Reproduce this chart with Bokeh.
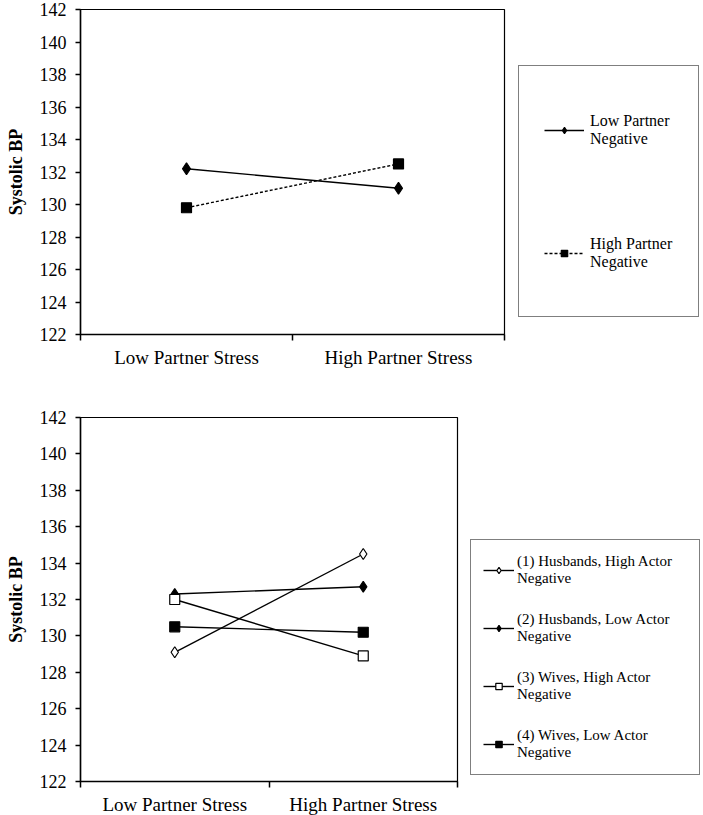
import numpy as np
from bokeh.plotting import figure
from bokeh.models import Range1d, FixedTicker, Legend, LegendItem
from bokeh.layouts import column
from bokeh.embed import file_html
from bokeh.resources import INLINE

# ---------------- data ----------------
categories = ["Low Partner Stress", "High Partner Stress"]
y_ticks = list(range(122, 143, 2))

top_names = ["Low Partner\nNegative", "High Partner\nNegative"]
top_low_neg = [132.2, 131.0]
top_high_neg = [129.8, 132.5]

bot_names = ["(1) Husbands, High Actor\nNegative",
             "(2) Husbands, Low Actor\nNegative",
             "(3) Wives, High Actor\nNegative",
             "(4) Wives, Low Actor\nNegative"]
bot_h_high = [129.1, 134.5]
bot_h_low = [132.3, 132.7]
bot_w_high = [132.0, 128.9]
bot_w_low = [130.5, 130.2]

FONT = "Liberation Serif"
xs = list(np.arange(len(categories)) + 0.5)


def base_fig(fw, fh, top, bottom, right):
    p = figure(frame_width=fw, frame_height=fh, output_backend="svg",
               toolbar_location=None,
               x_range=Range1d(0, len(categories)),
               y_range=Range1d(y_ticks[0], y_ticks[-1]),
               min_border_left=80, min_border_top=top,
               min_border_bottom=bottom, min_border_right=right)
    p.xgrid.visible = False
    p.ygrid.visible = False
    p.outline_line_color = "black"
    p.outline_line_width = 1.2
    p.background_fill_color = "white"
    p.border_fill_color = "white"
    # x axis: labels at category centres, tick marks at category boundaries
    p.xaxis.ticker = FixedTicker(ticks=xs,
                                 minor_ticks=list(range(len(categories) + 1)))
    p.xaxis.major_label_overrides = {x: c for x, c in zip(xs, categories)}
    p.xaxis.major_tick_out = 0
    p.xaxis.major_tick_in = 0
    p.xaxis.minor_tick_out = 6
    p.xaxis.minor_tick_in = 0
    p.xaxis.major_label_standoff = 6
    # y axis
    p.yaxis.ticker = FixedTicker(ticks=y_ticks)
    p.yaxis.major_tick_out = 5
    p.yaxis.major_tick_in = 0
    p.yaxis.minor_tick_out = 0
    p.yaxis.minor_tick_in = 0
    p.yaxis.major_label_standoff = 9
    p.yaxis.axis_label = "Systolic BP"
    p.yaxis.axis_label_text_font = FONT
    p.yaxis.axis_label_text_font_style = "bold"
    p.yaxis.axis_label_text_font_size = "18px"
    p.yaxis.axis_label_text_color = "black"
    p.yaxis.axis_label_standoff = 11
    for ax in (p.xaxis, p.yaxis):
        ax.axis_line_color = "black"
        ax.axis_line_width = 1.5
        ax.major_tick_line_color = "black"
        ax.major_tick_line_width = 1.5
        ax.minor_tick_line_color = "black"
        ax.minor_tick_line_width = 1.5
        ax.major_label_text_font = FONT
        ax.major_label_text_color = "black"
    p.yaxis.major_label_text_font_size = "18px"
    p.xaxis.major_label_text_font_size = "19px"
    return p


def series(p, ys, marker, fill, dash="solid", size=10):
    ln = p.line(xs, ys, line_color="black", line_width=1.4, line_dash=dash)
    sc = p.scatter(xs, ys, marker=marker, size=size, line_color="black",
                   fill_color=fill, line_width=1.2)
    return [ln, sc]


# ---------------- top panel ----------------
p1 = base_fig(424, 325, 9, 73, 199)
r1 = series(p1, top_low_neg, "diamond", "black", size=12)
r2 = series(p1, top_high_neg, "square", "black", dash="3 2", size=10)
leg1 = Legend(items=[LegendItem(label=top_names[0], renderers=r1),
                     LegendItem(label=top_names[1], renderers=r2)],
              location=(14, 17), orientation="vertical",
              padding=25, spacing=46, label_height=77, label_width=83,
              glyph_width=40, glyph_height=16, label_standoff=6,
              margin=0,
              border_line_color="black", border_line_width=1.5,
              label_text_font=FONT, label_text_font_size="16px",
              label_text_color="black")
p1.add_layout(leg1, "right")

# ---------------- bottom panel ----------------
p2 = base_fig(377, 364, 10, 34, 245)
b1 = series(p2, bot_h_high, "diamond", "white", size=11)
b2 = series(p2, bot_h_low, "diamond", "black", size=11)
b3 = series(p2, bot_w_high, "square", "white", size=10)
b4 = series(p2, bot_w_low, "square", "black", size=10)
leg2 = Legend(items=[LegendItem(label=n, renderers=r)
                     for n, r in zip(bot_names, [b1, b2, b3, b4])],
              location=(13, 6), orientation="vertical",
              padding=12, spacing=22, label_height=36, label_width=170,
              glyph_width=31, glyph_height=16, label_standoff=3,
              margin=0,
              border_line_color="black", border_line_width=1.5,
              label_text_font=FONT, label_text_font_size="15px",
              label_text_color="black")
p2.add_layout(leg2, "right")

layout = column(p1, p2, spacing=0)
open("out.html", "w").write(file_html(layout, INLINE))
